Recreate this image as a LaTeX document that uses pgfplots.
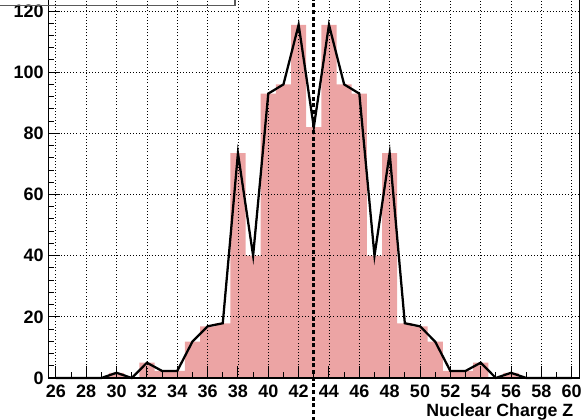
\documentclass[border=0pt]{standalone}
\usepackage{pgfplots}
\pgfplotsset{compat=1.18}
\usepackage{fontspec}
\setmainfont{Liberation Sans}
\definecolor{barfill}{RGB}{236,164,164}
\pgfplotstableread{
z v
26 0
27 0
28 0
29 0
30 1.7
31 0
32 5
33 2.3
34 2.3
35 11.9
36 16.9
37 17.9
38 73.5
39 40
40 93
41 96
42 115.5
43 82
44 115.5
45 96
46 93
47 40
48 73.5
49 17.9
50 16.9
51 11.9
52 2.3
53 2.3
54 5
55 0
56 1.7
57 0
58 0
59 0
60 0
}\hist
\begin{document}
\begin{tikzpicture}[x=0.75pt,y=0.75pt]
\begin{axis}[
  scale only axis, width=398.25pt, height=286.7pt,
  xmin=25.5, xmax=60.5, ymin=0, ymax=125,
  xtick={26,28,...,60}, minor xtick={27,29,...,59},
  ytick={0,20,...,120}, minor y tick num=4,
  xtick pos=bottom, ytick pos=left, tick align=inside,
  major tick length=8.7pt, minor tick length=4.4pt,
  every tick/.style={black, line width=0.75pt},
  axis line style={black, line width=0.8pt},
  grid=major,
  major grid style={black, line width=0.6pt, dash pattern=on 0.75pt off 1.6pt},
  axis on top,
  clip=false,
  /pgf/number format/assume math mode=true,
  ticklabel style={font=\fontsize{13.5}{15}\selectfont\bfseries},
  xticklabel style={yshift=-1.5pt},
  xlabel={Nuclear Charge Z},
  xlabel style={font=\fontsize{13.3}{15}\selectfont\bfseries, at={(rel axis cs:1,0)}, anchor=base east, yshift=-29.25pt, xshift=-1pt},
]
\addplot[ybar, bar width=1, fill=barfill, draw=none] table[x=z,y=v] {\hist};
\addplot[black, line width=2pt, dash pattern=on 3pt off 2pt] coordinates {(43,-14) (43,125)};
\addplot[black, line width=1.7pt, mark=none] table[x=z,y=v] {\hist};
\coordinate (bl) at (rel axis cs:0,0);
\end{axis}
\draw[line width=1.1pt, black!65] (bl) ++(-53.3,372.5) -- ++(240,0) -- ++(0,12);
\pgfresetboundingbox
\path (bl) ++(-48.3,-42) rectangle ++(581,420);
\end{tikzpicture}
\end{document}
